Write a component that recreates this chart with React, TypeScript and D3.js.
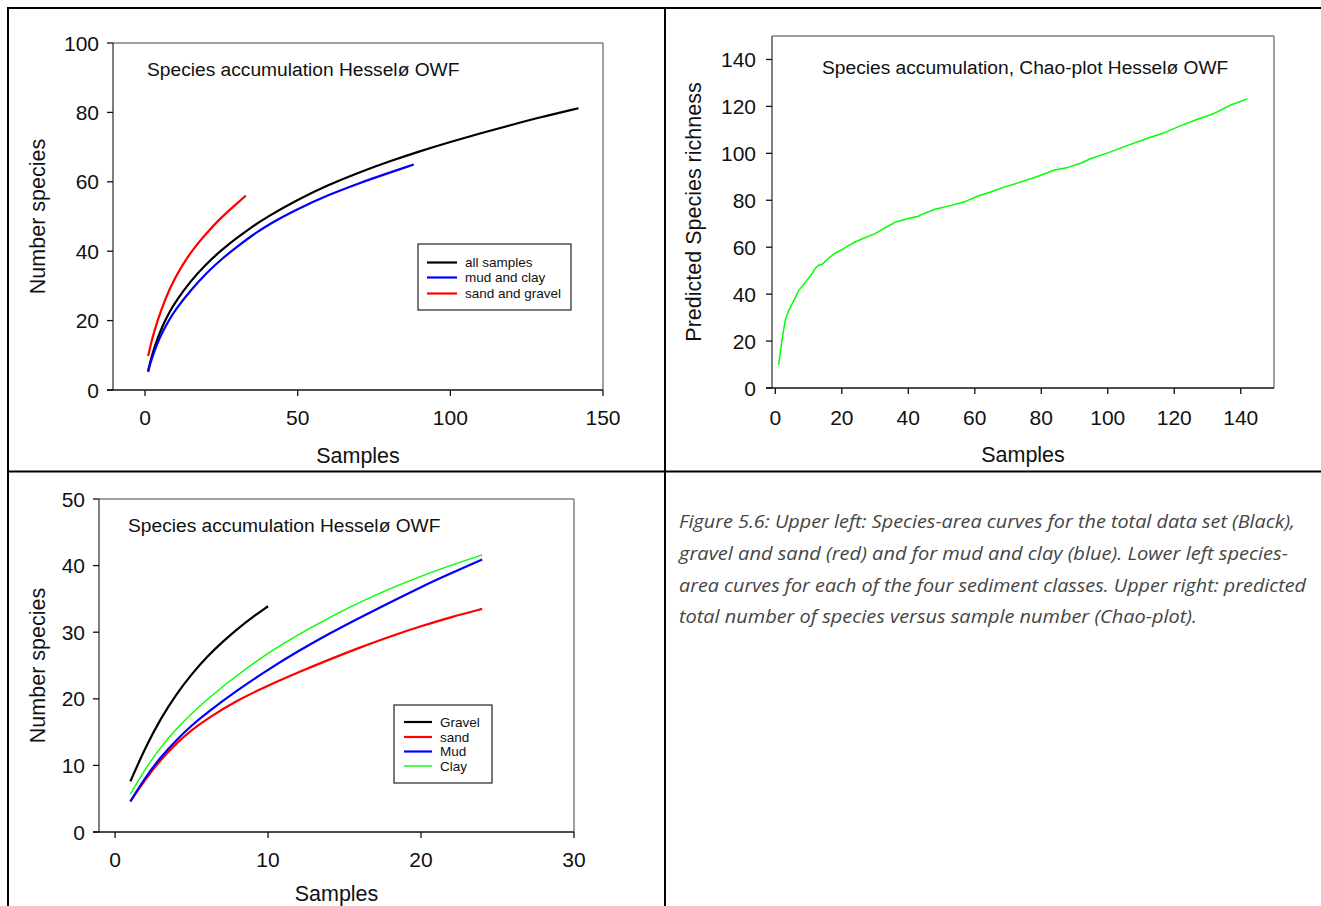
import React from "react";
import * as d3 from "d3";

type Pt = [number, number];

// ---- Upper left: species accumulation ----
const allSamples: Pt[] = [[1,5.5],[2,9.3],[4,14.8],[6,19],[8,22.5],[10,25.5],[15,31.5],[20,36.3],[25,40.3],[30,43.8],[35,47],[40,49.9],[50,54.9],[60,59.1],[70,62.7],[80,65.9],[90,68.8],[100,71.5],[110,74],[120,76.4],[130,78.7],[142,81.2]];
const mudAndClay: Pt[] = [[1,5.2],[2,8.6],[4,13.5],[6,17.2],[8,20.4],[10,23.2],[15,28.8],[20,33.6],[25,37.7],[30,41.2],[35,44.5],[40,47.5],[50,52.2],[60,56.2],[70,59.6],[80,62.6],[88,65]];
const sandAndGravel: Pt[] = [[1,9.8],[2,13.6],[3,16.9],[5,22.4],[8,29.3],[12,35.8],[16,40.9],[20,45.1],[25,49.8],[30,53.7],[33,56]];
const ulXTicks = [0, 50, 100, 150];
const ulYTicks = [0, 20, 40, 60, 80, 100];

// ---- Upper right: Chao plot ----
const chaoRichness: Pt[] = [[1,9.8],[2,20.5],[3,29],[4,33],[6,38.5],[7,41.5],[9,45],[11,48.6],[12,51],[13,52.3],[14,52.6],[16,55.3],[18,57.5],[20,58.9],[22,60.7],[24,62.2],[26,63.5],[30,65.8],[33,68.3],[36,70.6],[40,72.2],[43,73.2],[44,74],[48,76.2],[52,77.5],[57,79.4],[61,81.8],[65,83.6],[69,85.7],[73,87.4],[78,89.7],[84,92.9],[88,94],[92,95.9],[95,97.8],[100,100.2],[106,103.4],[112,106.4],[117,108.8],[122,111.8],[127,114.5],[132,117],[137,120.6],[142,123.2]];
const urXTicks = [0, 20, 40, 60, 80, 100, 120, 140];
const urYTicks = [0, 20, 40, 60, 80, 100, 120, 140];

// ---- Lower left: four sediment classes ----
const gravel: Pt[] = [[1,7.6],[2,12.8],[3,17.1],[4,20.7],[5,23.7],[6,26.3],[7,28.5],[8,30.5],[9,32.3],[10,33.9]];
const sand: Pt[] = [[1,4.6],[2,8],[3,10.9],[4,13.3],[5,15.3],[6,17],[8,19.8],[10,22],[12,24],[14,25.9],[16,27.7],[18,29.4],[20,30.9],[22,32.3],[24,33.5]];
const mud: Pt[] = [[1,4.6],[2,8.3],[3,11.3],[4,13.8],[5,16],[6,17.9],[8,21.3],[10,24.4],[12,27.2],[14,29.8],[16,32.2],[18,34.5],[20,36.8],[22,38.9],[24,40.9]];
const clay: Pt[] = [[1,5.7],[2,9.6],[3,12.8],[4,15.5],[5,17.8],[6,19.9],[8,23.6],[10,26.9],[12,29.7],[14,32.2],[16,34.5],[18,36.6],[20,38.4],[22,40.1],[24,41.6]];
const llXTicks = [0, 10, 20, 30];
const llYTicks = [0, 10, 20, 30, 40, 50];

const captionLines = [
  "Figure 5.6: Upper left: Species-area curves for the total data set (Black),",
  "gravel and sand (red) and for mud and clay (blue). Lower left species-",
  "area curves for each of the four sediment classes. Upper right: predicted",
  "total number of species versus sample number (Chao-plot).",
];
const captionWidths = [616, 609, 627, 518];

const FONT = "'Liberation Sans', Arial, Helvetica, sans-serif";

type Series = { name: string; data: Pt[]; color: string; width: number; curve?: d3.CurveFactory };

type PanelProps = {
  box: { l: number; r: number; t: number; b: number };
  xDomain: [number, number];
  yDomain: [number, number];
  xTicks: number[];
  yTicks: number[];
  series: Series[];
  title: string;
  titlePos: [number, number];
  xLabel: string;
  yLabel: string;
  xLabelY: number;
  yLabelX: number;
  xTickLabelDy: number;
  yTickGap: number;
  legend?: { x: number; y: number; w: number; h: number; rowY: number[]; lineX: [number, number]; textX: number };
};

function Panel(p: PanelProps) {
  const { box } = p;
  const x = d3.scaleLinear().domain(p.xDomain).range([box.l, box.r]);
  const y = d3.scaleLinear().domain(p.yDomain).range([box.b, box.t]);
  const tick = 6;
  return (
    <g fontFamily={FONT}>
      <line x1={box.l} x2={box.r} y1={box.t} y2={box.t} stroke="#808080" strokeWidth={1.5} />
      <line x1={box.r} x2={box.r} y1={box.t} y2={box.b} stroke="#808080" strokeWidth={1.5} />
      {p.series.map((s) => {
        const line = d3
          .line<Pt>()
          .x((d) => x(d[0]))
          .y((d) => y(d[1]))
          .curve(s.curve || d3.curveBasis);
        return <path key={s.name} d={line(s.data) || ""} fill="none" stroke={s.color} strokeWidth={s.width} strokeLinejoin="round" />;
      })}
      <line x1={box.l} x2={box.l} y1={box.t} y2={box.b} stroke="#555" strokeWidth={1.5} />
      <line x1={box.l - tick} x2={box.r} y1={box.b} y2={box.b} stroke="#111" strokeWidth={1.5} />
      {p.yTicks.map((v) => (
        <g key={"y" + v}>
          <line x1={box.l - tick} x2={box.l} y1={y(v)} y2={y(v)} stroke="#111" strokeWidth={1.3} />
          <text x={box.l - p.yTickGap} y={y(v)} dy="0.36em" textAnchor="end" fontSize={21} fill="#111">
            {v}
          </text>
        </g>
      ))}
      {p.xTicks.map((v) => (
        <g key={"x" + v}>
          <line x1={x(v)} x2={x(v)} y1={box.b} y2={box.b + tick} stroke="#111" strokeWidth={1.3} />
          <text x={x(v)} y={box.b + p.xTickLabelDy} textAnchor="middle" fontSize={21} fill="#111">
            {v}
          </text>
        </g>
      ))}
      <text x={(box.l + box.r) / 2} y={p.xLabelY} textAnchor="middle" fontSize={21.5} fill="#111">
        {p.xLabel}
      </text>
      <text
        transform={`translate(${p.yLabelX},${(box.t + box.b) / 2}) rotate(-90)`}
        textAnchor="middle"
        fontSize={21.5}
        fill="#111"
      >
        {p.yLabel}
      </text>
      <text x={p.titlePos[0]} y={p.titlePos[1]} fontSize={19.2} fill="#111">
        {p.title}
      </text>
      {p.legend && (
        <g>
          <rect x={p.legend.x} y={p.legend.y} width={p.legend.w} height={p.legend.h} fill="#fff" stroke="#222" strokeWidth={1.2} />
          {p.series.map((s, i) => (
            <g key={"lg" + s.name}>
              <line
                x1={p.legend!.lineX[0]}
                x2={p.legend!.lineX[1]}
                y1={p.legend!.rowY[i]}
                y2={p.legend!.rowY[i]}
                stroke={s.color}
                strokeWidth={s.width}
              />
              <text x={p.legend!.textX} y={p.legend!.rowY[i]} dy="0.35em" fontSize={13.5} fill="#111">
                {s.name}
              </text>
            </g>
          ))}
        </g>
      )}
    </g>
  );
}

export default function App() {
  return (
    <svg
      width={1321}
      height={906}
      viewBox="0 0 1321 906"
      style={{ position: "absolute", left: 0, top: 0, background: "#fff" }}
    >
      <rect x={0} y={0} width={1321} height={906} fill="#fff" />
      {/* table borders */}
      <line x1={7} x2={1321} y1={8} y2={8} stroke="#000" strokeWidth={2} />
      <line x1={8} x2={8} y1={7} y2={906} stroke="#000" strokeWidth={2} />
      <line x1={665} x2={665} y1={7} y2={906} stroke="#000" strokeWidth={2} />
      <line x1={8} x2={1321} y1={471.5} y2={471.5} stroke="#000" strokeWidth={2} />

      <Panel
        box={{ l: 113, r: 603, t: 43, b: 390 }}
        xDomain={[-10.5, 150]}
        yDomain={[0, 100]}
        xTicks={ulXTicks}
        yTicks={ulYTicks}
        series={[
          { name: "all samples", data: allSamples, color: "#000000", width: 2.2 },
          { name: "mud and clay", data: mudAndClay, color: "#0000ff", width: 2.2 },
          { name: "sand and gravel", data: sandAndGravel, color: "#ff0000", width: 2.2 },
        ]}
        title="Species accumulation Hesselø OWF"
        titlePos={[147, 76]}
        xLabel="Samples"
        yLabel="Number species"
        xLabelY={463}
        yLabelX={45}
        xTickLabelDy={35}
        yTickGap={14}
        legend={{ x: 418, y: 244, w: 153, h: 66, rowY: [262.5, 277.5, 293.5], lineX: [427, 457], textX: 465 }}
      />

      <Panel
        box={{ l: 772, r: 1274, t: 36, b: 388 }}
        xDomain={[-1, 150]}
        yDomain={[0, 150]}
        xTicks={urXTicks}
        yTicks={urYTicks}
        series={[{ name: "Chao", data: chaoRichness, color: "#00ff00", width: 1.5, curve: d3.curveLinear }]}
        title="Species accumulation, Chao-plot Hesselø OWF"
        titlePos={[822, 74]}
        xLabel="Samples"
        yLabel="Predicted Species richness"
        xLabelY={462}
        yLabelX={701}
        xTickLabelDy={37}
        yTickGap={16}
      />

      <Panel
        box={{ l: 99, r: 574, t: 499, b: 832 }}
        xDomain={[-1.05, 30]}
        yDomain={[0, 50]}
        xTicks={llXTicks}
        yTicks={llYTicks}
        series={[
          { name: "Gravel", data: gravel, color: "#000000", width: 2.2 },
          { name: "sand", data: sand, color: "#ff0000", width: 2.2 },
          { name: "Mud", data: mud, color: "#0000ff", width: 2.2 },
          { name: "Clay", data: clay, color: "#00ff00", width: 1.4 },
        ]}
        title="Species accumulation Hesselø OWF"
        titlePos={[128, 532]}
        xLabel="Samples"
        yLabel="Number species"
        xLabelY={901}
        yLabelX={45}
        xTickLabelDy={35}
        yTickGap={14}
        legend={{ x: 394, y: 705, w: 98, h: 78, rowY: [722, 737, 751.5, 766], lineX: [404, 432], textX: 440 }}
      />

      <g fontFamily="'Open Sans', 'Noto Sans', sans-serif" fontStyle="italic" fontSize={17.5} fill="#454545">
        {captionLines.map((t, i) => (
          <text key={i} x={679} y={528 + i * 31.8} textLength={captionWidths[i]} lengthAdjust="spacingAndGlyphs">
            {t}
          </text>
        ))}
      </g>
    </svg>
  );
}
